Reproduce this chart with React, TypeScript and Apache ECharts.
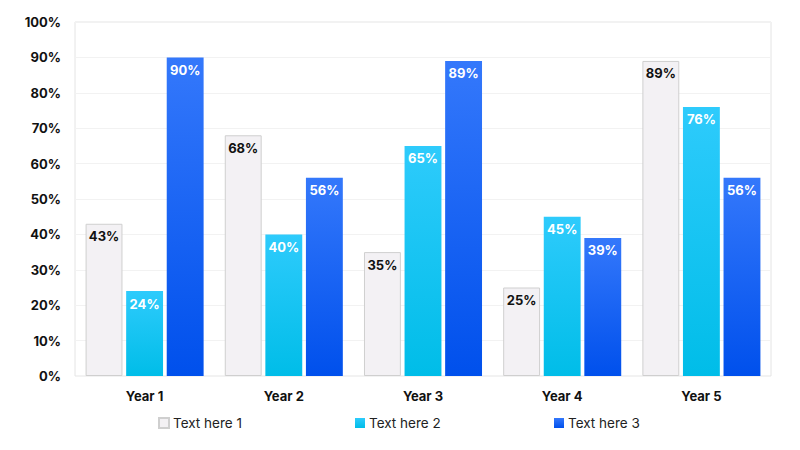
import React, { useEffect, useRef } from 'react';
import * as echarts from 'echarts';

const years = ['Year 1', 'Year 2', 'Year 3', 'Year 4', 'Year 5'];
const seriesNames = ['Text here 1', 'Text here 2', 'Text here 3'];
const values1 = [43, 68, 35, 25, 89];
const values2 = [24, 40, 65, 45, 76];
const values3 = [90, 56, 89, 39, 56];

const FONT = 'Inter, "Noto Sans", sans-serif';

const gradient = (top: string, bottom: string) =>
    new echarts.graphic.LinearGradient(0, 0, 0, 1, [
        { offset: 0, color: top },
        { offset: 1, color: bottom },
    ]);

const App: React.FC = () => {
    const chartRef = useRef<HTMLDivElement>(null);

    useEffect(() => {
        if (!chartRef.current) return;
        const chart = echarts.init(chartRef.current, undefined, { renderer: 'svg' });

        const label = (color: string) => ({
            show: true,
            position: 'insideTop' as const,
            distance: 6,
            formatter: '{c}%',
            color,
            fontFamily: FONT,
            fontWeight: 'bold' as const,
            fontSize: 13,
        });

        const legendAt = (name: string, left: number) => ({
            data: [name],
            left,
            top: 411,
            itemWidth: 10,
            itemHeight: 10,
            itemGap: 0,
            icon: 'rect',
            textStyle: { fontFamily: FONT, fontSize: 13.5, color: '#222', padding: [0, 0, 0, -1] },
        });

        chart.setOption({
            animation: false,
            legend: [
                legendAt(seriesNames[0], 153),
                legendAt(seriesNames[1], 350),
                legendAt(seriesNames[2], 549),
            ],
            grid: {
                left: 75,
                right: 29,
                top: 22,
                bottom: 74,
                show: true,
                borderColor: '#e4e4e4',
                borderWidth: 1,
            },
            xAxis: {
                type: 'category',
                data: years,
                axisLine: { show: false },
                axisTick: { show: false },
                axisLabel: {
                    color: '#111',
                    fontFamily: FONT,
                    fontWeight: 'bold',
                    fontSize: 13,
                    margin: 13,
                },
            },
            yAxis: {
                type: 'value',
                min: 0,
                max: 100,
                interval: 10,
                axisLabel: {
                    formatter: '{value}%',
                    color: '#111',
                    fontFamily: FONT,
                    fontWeight: 'bold',
                    fontSize: 13,
                    margin: 14,
                },
                splitLine: { lineStyle: { color: '#f2f2f2' } },
            },
            series: [
                {
                    name: seriesNames[0],
                    type: 'bar',
                    data: values1,
                    barWidth: '26.5%',
                    barGap: '10%',
                    itemStyle: { color: '#f3f1f4', borderColor: '#cfcfcf', borderWidth: 1 },
                    label: label('#111'),
                },
                {
                    name: seriesNames[1],
                    type: 'bar',
                    data: values2,
                    barWidth: '26.5%',
                    itemStyle: { color: gradient('#2ecbfc', '#00bde8') },
                    label: label('#ffffff'),
                },
                {
                    name: seriesNames[2],
                    type: 'bar',
                    data: values3,
                    barWidth: '26.5%',
                    itemStyle: { color: gradient('#3478fb', '#0050ec') },
                    label: label('#ffffff'),
                },
            ],
        });

        return () => chart.dispose();
    }, []);

    return <div ref={chartRef} style={{ width: 800, height: 450, margin: -8 }} />;
};

export default App;
